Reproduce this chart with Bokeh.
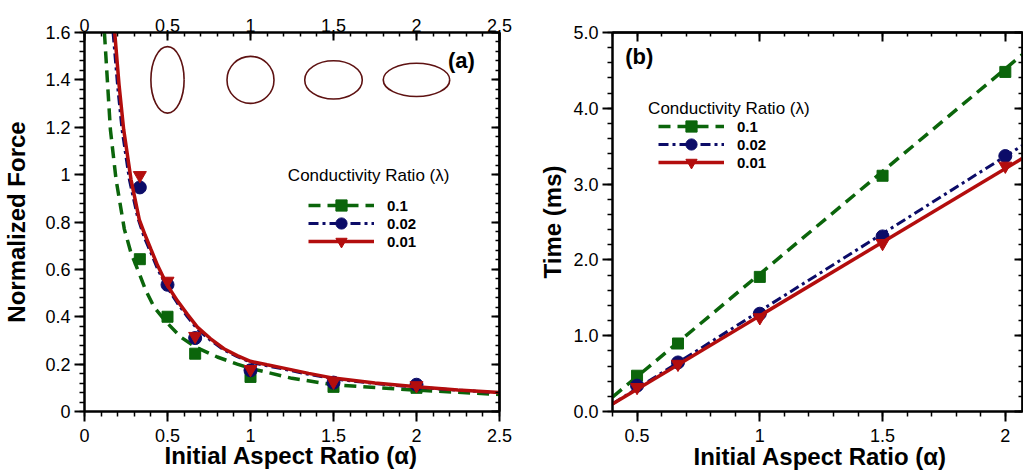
from bokeh.plotting import figure
from bokeh.models import Range1d, LinearAxis, FixedTicker, Legend, LegendItem, Label, Title
from bokeh.layouts import row
from bokeh.embed import file_html
from bokeh.resources import INLINE

# ---------------- data: panel (a) ----------------
alpha_a = [1/3, 0.5, 2/3, 1.0, 1.5, 2.0]
force_l01 = [0.643, 0.400, 0.244, 0.146, 0.104, 0.100]
force_l002 = [0.946, 0.535, 0.310, 0.174, 0.122, 0.113]
force_l001 = [0.997, 0.551, 0.318, 0.178, 0.125, 0.110]

curve_alpha_l01 = [0.120, 0.156, 0.19, 0.24, 0.28, 0.32, 0.37, 0.42, 0.49, 0.58,
                   0.67, 0.80, 0.92, 1.0, 1.12, 1.25, 1.5, 2.0, 2.5]
curve_force_l01 = [1.6, 1.19, 0.98, 0.77, 0.67, 0.60, 0.51, 0.44, 0.38, 0.314,
                   0.272, 0.230, 0.200, 0.182, 0.162, 0.140, 0.113, 0.090, 0.072]
curve_alpha_l002 = [0.172, 0.200, 0.226, 0.27, 0.32, 0.36, 0.40, 0.44, 0.48, 0.52, 0.56,
                    0.62, 0.68, 0.76, 0.84, 0.92, 1.0, 1.1, 1.2, 1.35, 1.5, 1.75, 2.0, 2.25, 2.5]
curve_force_l002 = [1.6, 1.37, 1.19, 0.98, 0.82, 0.735, 0.67, 0.602, 0.548, 0.500, 0.457,
                    0.400, 0.348, 0.300, 0.260, 0.232, 0.208, 0.193, 0.179, 0.157, 0.138,
                    0.118, 0.102, 0.090, 0.079]
curve_alpha_l001 = [0.182, 0.208, 0.236, 0.28, 0.33, 0.365, 0.40, 0.44, 0.48, 0.52, 0.56,
                    0.62, 0.68, 0.76, 0.84, 0.92, 1.0, 1.1, 1.2, 1.35, 1.5, 1.75, 2.0, 2.25, 2.5]
curve_force_l001 = [1.6, 1.38, 1.19, 0.98, 0.81, 0.745, 0.685, 0.617, 0.559, 0.510, 0.467,
                    0.410, 0.356, 0.307, 0.265, 0.236, 0.212, 0.197, 0.183, 0.161, 0.141,
                    0.120, 0.104, 0.091, 0.080]

shape_alpha = [0.5, 1.0, 1.5, 2.0]
shape_level = [1.4, 1.4, 1.4, 1.4]

x_ticks_a = [0, 0.5, 1, 1.5, 2, 2.5]
x_labels_a = ["0", "0.5", "1", "1.5", "2", "2.5"]
y_ticks_a = [0, 0.2, 0.4, 0.6, 0.8, 1.0, 1.2, 1.4, 1.6]
y_labels_a = ["0", "0.2", "0.4", "0.6", "0.8", "1", "1.2", "1.4", "1.6"]

# ---------------- data: panel (b) ----------------
alpha_b = [0.5, 2/3, 1.0, 1.5, 2.0]
time_l01 = [0.472, 0.897, 1.776, 3.11, 4.48]
time_l002 = [0.341, 0.647, 1.29, 2.31, 3.37]
time_l001 = [0.320, 0.626, 1.24, 2.22, 3.24]

fit_alpha = [0.4, 2.07]
fit_l01 = [0.19, 4.71]
fit_l002 = [0.10, 3.51]
fit_l001 = [0.10, 3.34]

x_ticks_b = [0.5, 1, 1.5, 2]
x_labels_b = ["0.5", "1", "1.5", "2"]
y_ticks_b = [0, 1, 2, 3, 4, 5]
y_labels_b = ["0.0", "1.0", "2.0", "3.0", "4.0", "5.0"]

series_names = ["0.1", "0.02", "0.01"]
legend_title = "Conductivity Ratio (\u03bb)"
x_title = "Initial Aspect Ratio (\u03b1)"

# ---------------- styling ----------------
FONT = "Liberation Sans"
GREEN = "#0b650b"
NAVY = "#0c0c68"
RED = "#b30d0d"
SHAPE = "#5e1212"


def minor(lo, hi, step):
    n = int(round((hi - lo) / step))
    return [round(lo + i * step, 4) for i in range(n + 1)]


def style_axis(ax, ticks, labels, minors, tin, tout):
    ax.ticker = FixedTicker(ticks=ticks, minor_ticks=minors)
    ax.major_label_overrides = {float(t): l for t, l in zip(ticks, labels)}
    ax.axis_line_width = 2
    ax.axis_line_color = "black"
    ax.major_tick_line_width = 2
    ax.minor_tick_line_width = 1.5
    ax.major_tick_in = tin
    ax.major_tick_out = tout
    ax.minor_tick_in = tin // 2
    ax.minor_tick_out = tout // 2
    ax.major_label_text_font = FONT
    ax.major_label_text_font_size = "18px"
    ax.major_label_text_color = "black"
    ax.axis_label_text_font = FONT
    ax.axis_label_text_font_size = "24px"
    ax.axis_label_text_font_style = "bold"
    ax.axis_label_text_color = "black"


def bare_axes(p, side, majors, minors, tin):
    # label-free tick rows drawn inside the frame (ticks only, no texts)
    for pos, ln in ((minors, tin // 2), (majors, tin)):
        ax = LinearAxis(ticker=FixedTicker(ticks=[], minor_ticks=pos))
        ax.axis_line_width = 2
        ax.axis_line_color = "black"
        ax.minor_tick_line_width = 2 if ln == tin else 1.5
        ax.minor_tick_in = ln
        ax.minor_tick_out = 0
        ax.major_tick_in = 0
        ax.major_tick_out = 0
        ax.major_label_standoff = 0
        p.add_layout(ax, side)


def x_title_below(p, offset, standoff):
    t = Title(text=x_title, align="left", vertical_align="bottom", offset=offset,
              standoff=standoff, text_font=FONT, text_font_size="24px",
              text_font_style="bold", text_color="black")
    p.add_layout(t, "below")


def base_fig(width, xr, yr, bl, br, bt, bb):
    p = figure(width=width, height=473, x_range=Range1d(*xr), y_range=Range1d(*yr),
               output_backend="svg", toolbar_location=None,
               min_border_left=bl, min_border_right=br, min_border_top=bt,
               min_border_bottom=bb)
    p.xgrid.visible = False
    p.ygrid.visible = False
    p.outline_line_color = "black"
    p.outline_line_width = 2
    p.background_fill_color = "white"
    p.border_fill_color = "white"
    return p


def make_legend(p, rend, locs):
    for n, r, loc in zip(series_names, rend, locs):
        lg = Legend(items=[LegendItem(label=n, renderers=r)], location=loc,
                    glyph_width=66, glyph_height=28, label_height=28, spacing=0,
                    padding=0, margin=0, border_line_alpha=0, background_fill_alpha=0,
                    label_standoff=13, label_text_font=FONT,
                    label_text_font_style="bold", label_text_font_size="15px",
                    label_text_color="black")
        p.add_layout(lg)


# ---------------- panel (a) ----------------
p1 = base_fig(520, (0, 2.5), (0, 1.6), 83, 21, 32, 60)
xm_a = minor(0, 2.5, 0.1)
ym_a = minor(0, 1.6, 0.04)
style_axis(p1.xaxis[0], x_ticks_a, x_labels_a, xm_a, 0, 10)
p1.xaxis[0].major_label_standoff = 7
style_axis(p1.yaxis[0], y_ticks_a, y_labels_a, ym_a, 0, 10)
p1.yaxis[0].major_label_standoff = 4
p1.yaxis[0].axis_label = "Normalized Force"
p1.yaxis[0].axis_label_standoff = 12
x_title_below(p1, 80, -10)

top_a = LinearAxis()
style_axis(top_a, x_ticks_a, x_labels_a, xm_a, 8, 0)
top_a.major_label_standoff = 1
p1.add_layout(top_a, "above")
bare_axes(p1, "right", y_ticks_a, ym_a, 8)

p1.ellipse(x=shape_alpha, y=shape_level,
           width=[47 * a ** 0.5 for a in shape_alpha],
           height=[47 / a ** 0.5 for a in shape_alpha],
           width_units="screen", height_units="screen",
           fill_alpha=0, line_color=SHAPE, line_width=1.6)

g_l = p1.line(curve_alpha_l01, curve_force_l01, line_color=GREEN, line_width=3.5, line_dash="12 7")
g_m = p1.scatter(alpha_a, force_l01, marker="square", size=11, color=GREEN)
n_l = p1.line(curve_alpha_l002, curve_force_l002, line_color=NAVY, line_width=3, line_dash="10 4 3 4")
n_m = p1.scatter(alpha_a, force_l002, marker="circle", size=13, color=NAVY)
r_l = p1.line(curve_alpha_l001, curve_force_l001, line_color=RED, line_width=3.5)
r_m = p1.scatter(alpha_a, force_l001, marker="inverted_triangle", size=13, color=RED)

make_legend(p1, [[g_l, g_m], [n_l, n_m], [r_l, r_m]], [(224, 192), (224, 174), (224, 156)])
p1.add_layout(Label(x=1.225, y=0.995, text=legend_title, text_baseline="middle",
                    text_font=FONT, text_font_size="17px", text_color="black"))
p1.add_layout(Label(x=2.19, y=1.483, text="(a)", text_baseline="middle",
                    text_font=FONT, text_font_size="22px", text_font_style="bold",
                    text_color="black"))

# ---------------- panel (b) ----------------
p2 = base_fig(503, (0.4, 2.07), (0, 5), 92, 1, 30, 62)
xm_b = minor(0.4, 2.0, 0.1)
ym_b = minor(0, 5, 0.2)
style_axis(p2.xaxis[0], x_ticks_b, x_labels_b, xm_b, 0, 10)
p2.xaxis[0].major_label_standoff = 7
style_axis(p2.yaxis[0], y_ticks_b, y_labels_b, ym_b, 0, 10)
p2.yaxis[0].major_label_standoff = 4
p2.yaxis[0].axis_label = "Time (ms)"
p2.yaxis[0].axis_label_standoff = 4
x_title_below(p2, 81, -8)

bare_axes(p2, "above", x_ticks_b, xm_b, 9)
bare_axes(p2, "right", y_ticks_b, ym_b, 8)

g2_l = p2.line(fit_alpha, fit_l01, line_color=GREEN, line_width=3.5, line_dash="12 7")
g2_m = p2.scatter(alpha_b, time_l01, marker="square", size=11, color=GREEN)
n2_l = p2.line(fit_alpha, fit_l002, line_color=NAVY, line_width=3, line_dash="10 4 3 4")
n2_m = p2.scatter(alpha_b, time_l002, marker="circle", size=13, color=NAVY)
r2_l = p2.line(fit_alpha, fit_l001, line_color=RED, line_width=3.5)
r2_m = p2.scatter(alpha_b, time_l001, marker="inverted_triangle", size=13, color=RED)

make_legend(p2, [[g2_l, g2_m], [n2_l, n2_m], [r2_l, r2_m]], [(46, 271), (46, 253), (46, 235)])
p2.add_layout(Label(x=0.545, y=4.0, text=legend_title, text_baseline="middle",
                    text_font=FONT, text_font_size="17px", text_color="black"))
p2.add_layout(Label(x=0.452, y=4.685, text="(b)", text_baseline="middle",
                    text_font=FONT, text_font_size="22px", text_font_style="bold",
                    text_color="black"))

layout = row(p1, p2)
open("out.html", "w").write(file_html(layout, INLINE))
